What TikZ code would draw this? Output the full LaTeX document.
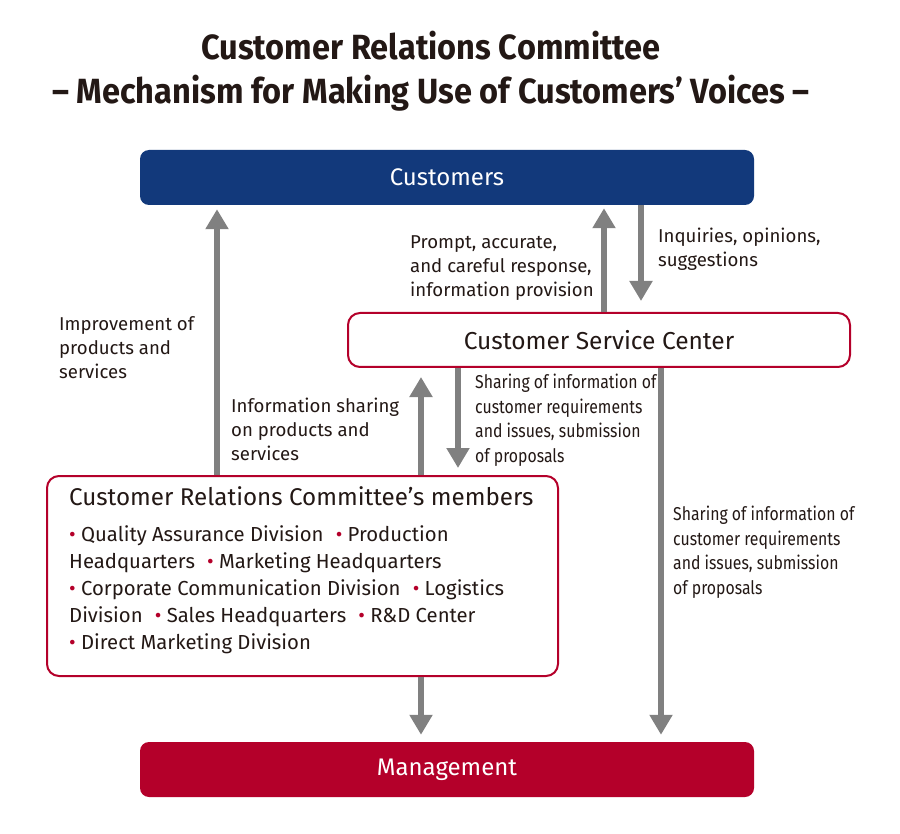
\documentclass[tikz,border=0pt]{standalone}
\usepackage{fontspec}
\setmainfont{Fira Sans}
\newfontfamily\narrowfont[FakeStretch=0.85]{Fira Sans}
\newfontfamily\titlefont[FakeStretch=0.93]{Fira Sans}
\usetikzlibrary{arrows.meta}

\definecolor{custblue}{HTML}{12397B}
\definecolor{mgmtred}{HTML}{B4002A}
\definecolor{flowgray}{HTML}{808080}
\definecolor{inkdark}{HTML}{231815}

\newcommand{\redbullet}{\textcolor{mgmtred}{\textbullet}~}
\newcommand{\itemgap}{\hspace{0.6em}}

\tikzset{
  bar/.style={rounded corners=9pt, minimum height=55pt, minimum width=614pt,
    text=white, font=\fontsize{24}{28}\selectfont},
  panel/.style={draw=mgmtred, line width=2pt, rounded corners=12pt, fill=white,
    text=inkdark},
  flow/.style={draw=flowgray, line width=6pt,
    -{Triangle[length=20pt,width=22pt]}, shorten >=7pt},
  note/.style={anchor=north west, inner sep=0pt, align=left, text=inkdark,
    font=\fontsize{18.6}{24}\selectfont},
  narrownote/.style={note, font=\narrowfont\fontsize{18.6}{24.5}\selectfont},
}

\begin{document}
\begin{tikzpicture}[x=1pt,y=-1pt]
  \useasboundingbox (0,0) rectangle (900,834);

  \node[text=inkdark, align=center,
    font=\titlefont\bfseries\fontsize{35}{44}\selectfont] (title) at (431,71)
    {Customer Relations Committee\\\textendash{} Mechanism for Making Use of Customers’ Voices \textendash};

  \node[bar, fill=custblue] (customers) at (447,177.5) {Customers};
  \node[panel, minimum width=502pt, minimum height=54pt,
    font=\fontsize{24.5}{28}\selectfont] (service) at (599,340) {Customer Service Center};
  \node[panel, minimum width=511pt, minimum height=200pt] (members) at (302.5,576) {};
  \node[note, font=\fontsize{20.3}{27}\selectfont] (memberlist) at (69,486)
    {{\fontsize{24.2}{27}\selectfont Customer Relations Committee’s members}\\[9pt]
     \redbullet Quality Assurance Division\itemgap\redbullet Production\\
     Headquarters\itemgap\redbullet Marketing Headquarters\\
     \redbullet Corporate Communication Division\itemgap\redbullet Logistics\\
     Division\itemgap\redbullet Sales Headquarters\itemgap\redbullet R\&D Center\\
     \redbullet Direct Marketing Division};
  \node[bar, fill=mgmtred] (management) at (447,769.5) {Management};

  \draw[flow, shorten >=4pt] (217,0 |- members.north) -- (217,0 |- customers.south);
  \draw[flow, shorten >=3pt] (604,0 |- service.north) -- (604,0 |- customers.south);
  \draw[flow, shorten >=11pt] (641,0 |- customers.south) -- (641,0 |- service.north);
  \draw[flow, shorten >=9pt] (421,0 |- members.north) -- (421,0 |- service.south);
  \draw[flow] (458,0 |- service.south) -- (458,0 |- members.north);
  \draw[flow] (661,0 |- service.south) -- (661,0 |- management.north);
  \draw[flow] (421,0 |- members.south) -- (421,0 |- management.north);

  \node[note] (reply) at (410,235)
    {Prompt, accurate,\\and careful response,\\information provision};
  \node[note] (inquiry) at (658,228) {Inquiries, opinions,\\suggestions};
  \node[note] (improve) at (59,316) {Improvement of\\products and\\services};
  \node[note] (infoshare) at (231,398)
    {Information sharing\\on products and\\services};
  \node[narrownote] (share1) at (475,374)
    {Sharing of information of\\customer requirements\\and issues, submission\\of proposals};
  \node[narrownote] (share2) at (673,506)
    {Sharing of information of\\customer requirements\\and issues, submission\\of proposals};
\end{tikzpicture}
\end{document}
